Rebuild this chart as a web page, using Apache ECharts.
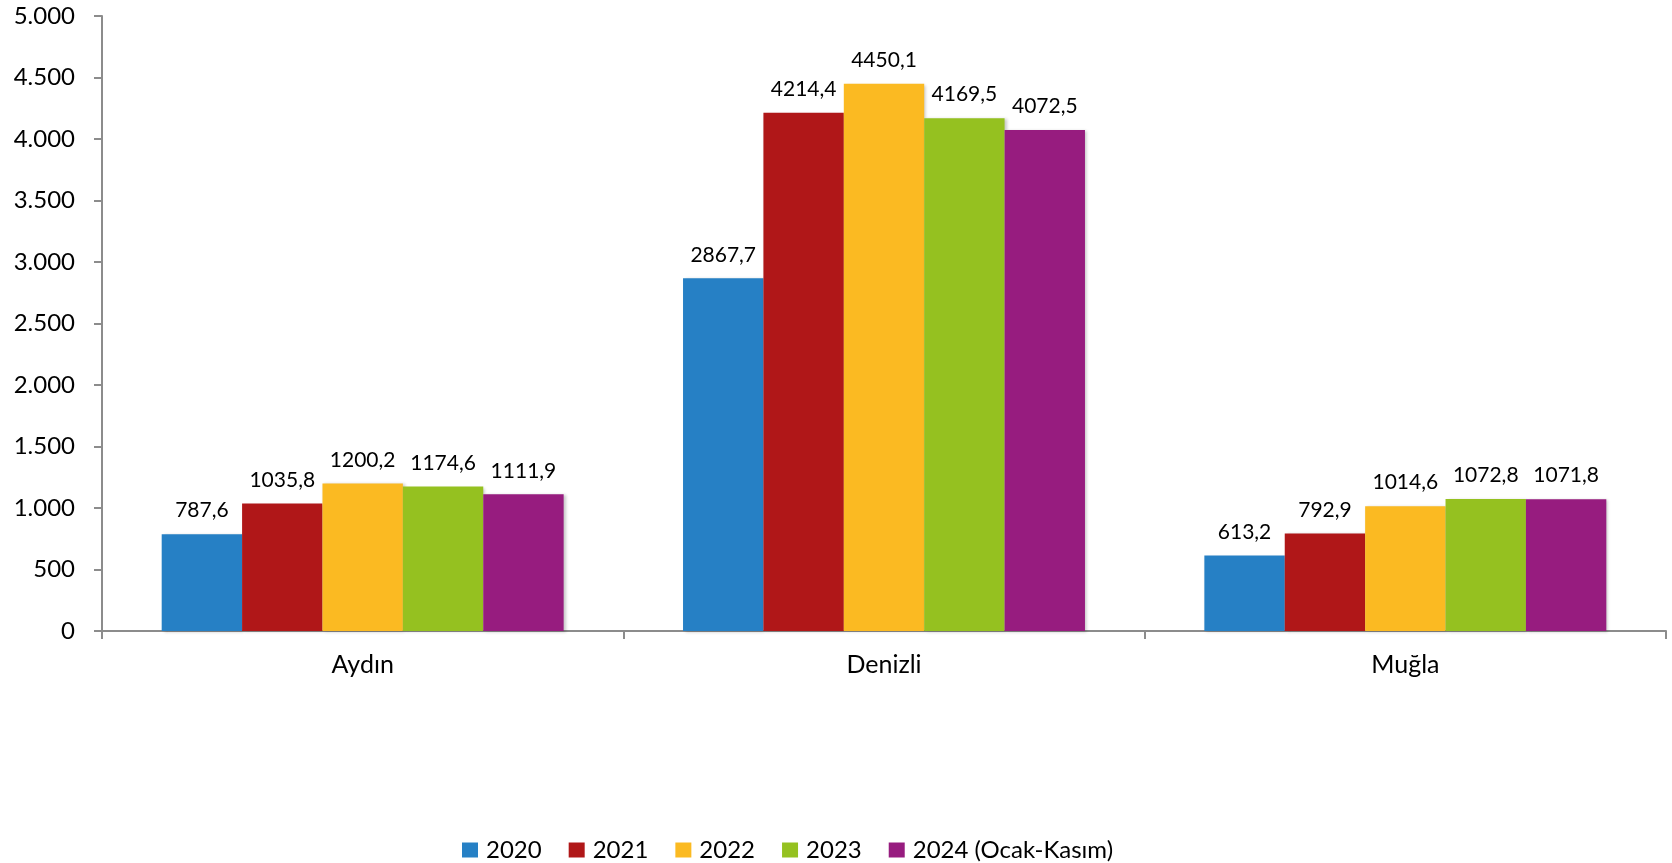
<!DOCTYPE html>
<html>
<head>
<meta charset="utf-8">
<title>İllere göre değerler</title>
<script src="https://cdn.jsdelivr.net/npm/echarts@6/dist/echarts.min.js"></script>
<style>
  html, body { margin: 0; padding: 0; background: #ffffff; }
  #chart { width: 1672px; height: 863px; }
</style>
</head>
<body>
<div id="chart"></div>
<script>
// Provinces on the category axis
const categories = ['Aydın', 'Denizli', 'Muğla'];

// Series names (legend order)
const seriesNames = ['2020', '2021', '2022', '2023', '2024 (Ocak-Kasım)'];

// Values per year, in category order
const values2020 = [787.6, 2867.7, 613.2];
const values2021 = [1035.8, 4214.4, 792.9];
const values2022 = [1200.2, 4450.1, 1014.6];
const values2023 = [1174.6, 4169.5, 1072.8];
const values2024 = [1111.9, 4072.5, 1071.8];

// Value axis range
const yMin = 0;
const yMax = 5000;
const yInterval = 500;

const seriesValues = [values2020, values2021, values2022, values2023, values2024];
const colors = ['#2680c5', '#b01718', '#fbba22', '#95c120', '#971c7f'];

const FONT = 'Lato, "Noto Sans", sans-serif';

const formatThousands = v => String(v).replace(/\B(?=(\d{3})+(?!\d))/g, '.');
const formatDecimal = v => v.toFixed(1).replace('.', ',');

const chart = echarts.init(document.getElementById('chart'), null, { renderer: 'canvas' });

chart.setOption({
  animation: false,
  backgroundColor: '#ffffff',
  color: colors,
  textStyle: { fontFamily: FONT },
  grid: { left: 102, right: 6, top: 16, bottom: 232, containLabel: false },
  legend: {
    data: seriesNames,
    left: 457,
    top: 833,
    icon: 'rect',
    itemWidth: 16,
    itemHeight: 15,
    itemGap: 27,
    textStyle: { fontFamily: FONT, fontSize: 24, color: '#000000', padding: [0, 0, 0, 3] }
  },
  xAxis: {
    type: 'category',
    data: categories,
    axisLine: { show: true, lineStyle: { color: '#8c8c8c', width: 2 } },
    axisTick: { show: true, length: 8, lineStyle: { color: '#8c8c8c', width: 2 } },
    axisLabel: { fontFamily: FONT, fontSize: 25, color: '#000000', margin: 21 },
    splitLine: { show: false }
  },
  yAxis: {
    type: 'value',
    min: yMin,
    max: yMax,
    interval: yInterval,
    axisLine: { show: true, lineStyle: { color: '#8c8c8c', width: 2 } },
    axisTick: { show: true, length: 8, lineStyle: { color: '#8c8c8c', width: 2 } },
    axisLabel: {
      fontFamily: FONT, fontSize: 24, color: '#000000', margin: 27,
      formatter: v => formatThousands(v)
    },
    splitLine: { show: false }
  },
  series: seriesNames.map((name, i) => ({
    name: name,
    type: 'bar',
    data: seriesValues[i],
    barGap: '0%',
    barCategoryGap: '22.9%',
    itemStyle: {
      color: colors[i],
      shadowColor: 'rgba(0,0,0,0.22)',
      shadowBlur: 3,
      shadowOffsetX: 2,
      shadowOffsetY: 1
    },
    label: {
      show: true,
      position: 'top',
      distance: 13,
      fontFamily: FONT,
      fontSize: 21,
      color: '#000000',
      formatter: p => formatDecimal(p.value)
    }
  }))
});
</script>
</body>
</html>
